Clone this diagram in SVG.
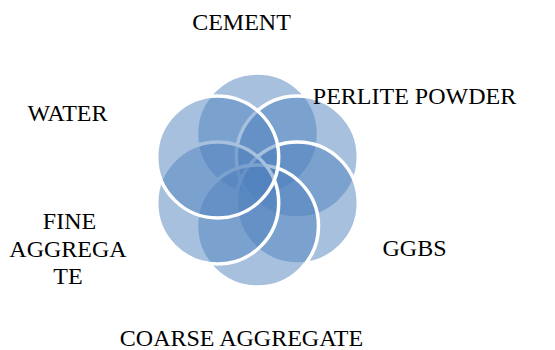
<svg xmlns="http://www.w3.org/2000/svg" width="555" height="350" viewBox="0 0 555 350">
<style>
.c{fill:rgba(79,129,189,0.5);stroke:#fff;stroke-width:3.5}
.t{font-family:"Liberation Serif","Times New Roman",serif;font-size:24px;fill:#000;text-anchor:middle}
</style>
<rect width="555" height="350" fill="#fff"/>
<g id="cement"><circle class="c" cx="257.5" cy="134" r="61"/><text class="t" x="241.5" y="29.5">CEMENT</text></g>
<g id="perlite"><circle class="c" cx="297.3" cy="157" r="61"/><text class="t" x="414.5" y="104">PERLITE POWDER</text></g>
<g id="ggbs"><circle class="c" cx="297.3" cy="203" r="61"/><text class="t" x="414.5" y="256">GGBS</text></g>
<g id="coarse"><circle class="c" cx="257.5" cy="226" r="61"/><text class="t" x="241.5" y="346">COARSE AGGREGATE</text></g>
<g id="fine"><circle class="c" cx="217.7" cy="203" r="61"/><text class="t" x="68.5"><tspan x="69.5" y="229">FINE</tspan><tspan x="68" y="256.5">AGGREGA</tspan><tspan x="68" y="284">TE</tspan></text></g>
<g id="water"><circle class="c" cx="217.7" cy="157" r="61"/><text class="t" x="67.5" y="120.5">WATER</text></g>
<g id="connectors"></g>
</svg>
